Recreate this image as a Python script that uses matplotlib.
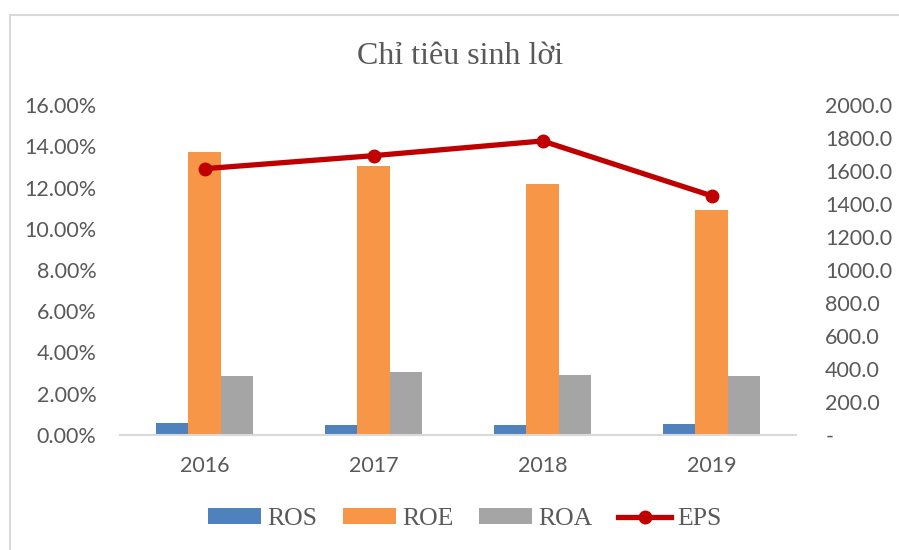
import numpy as np
import matplotlib.pyplot as plt
from matplotlib.ticker import FuncFormatter

years = ['2016', '2017', '2018', '2019']
ros = [0.58, 0.50, 0.47, 0.53]      # %
roe = [13.70, 13.02, 12.17, 10.93]  # %
roa = [2.85, 3.04, 2.89, 2.85]      # %
eps = [1614, 1693, 1782, 1450]

tick_font = 'Lato'
serif = 'Liberation Serif'
txt = '#595959'

fig = plt.figure(figsize=(8.99, 5.5), dpi=100)
ax = fig.add_axes([120 / 899, 1 - 435 / 550, 676 / 899, 330 / 550])

x = np.arange(len(years))
w = 0.192
ax.bar(x - w, ros, w, color='#4F81BD', label='ROS')
ax.bar(x, roe, w, color='#F79646', label='ROE')
ax.bar(x + w, roa, w, color='#A5A5A5', label='ROA')

ax.set_xlim(-0.5, 3.5)
ax.set_ylim(0, 16)
ax.set_yticks(np.arange(0, 17, 2))
ax.yaxis.set_major_formatter(FuncFormatter(lambda v, p: '%.2f%%' % v))
ax.set_xticks(x)
ax.set_xticklabels(years)

ax2 = ax.twinx()
ax2.plot(x, eps, color='#C00000', lw=3.8, marker='o', ms=9, label='EPS')
ax2.set_ylim(0, 2000)
ax2.set_yticks(np.arange(0, 2001, 200))
ax2.yaxis.set_major_formatter(FuncFormatter(lambda v, p: '-' if v == 0 else '%.1f' % v))

for a in (ax, ax2):
    for s in a.spines.values():
        s.set_visible(False)
    a.tick_params(length=0, colors=txt, labelsize=15.5)
    for lab in a.get_xticklabels() + a.get_yticklabels():
        lab.set_fontfamily(tick_font)
ax.spines['bottom'].set_visible(True)
ax.spines['bottom'].set_color('#D9D9D9')
ax.spines['bottom'].set_linewidth(1.5)
ax.tick_params(axis='x', pad=15)
ax.tick_params(axis='y', pad=17)
ax2.tick_params(axis='y', pad=21)
for lab in ax2.get_yticklabels():
    lab.set_horizontalalignment('left')

fig.text(0.512, 1 - 57 / 550, 'Chỉ tiêu sinh lời', ha='center', va='center',
         fontsize=23, family=serif, color=txt)

h1, l1 = ax.get_legend_handles_labels()
h2, l2 = ax2.get_legend_handles_labels()
fig.legend(h1 + h2, l1 + l2, loc='center', bbox_to_anchor=(465 / 899, 1 - 519 / 550),
           ncol=4, frameon=False, prop={'family': serif, 'size': 18.5},
           labelcolor=txt, handlelength=2.05, handleheight=0.55,
           handletextpad=0.25, columnspacing=1.0)

# outer chart border (left and top)
fig.add_artist(plt.Line2D([10 / 899, 10 / 899], [0, 1 - 15 / 550], color='#D9D9D9', lw=1.5))
fig.add_artist(plt.Line2D([10 / 899, 1], [1 - 15 / 550, 1 - 15 / 550], color='#D9D9D9', lw=1.5))

fig.savefig('out.png', dpi=100)
